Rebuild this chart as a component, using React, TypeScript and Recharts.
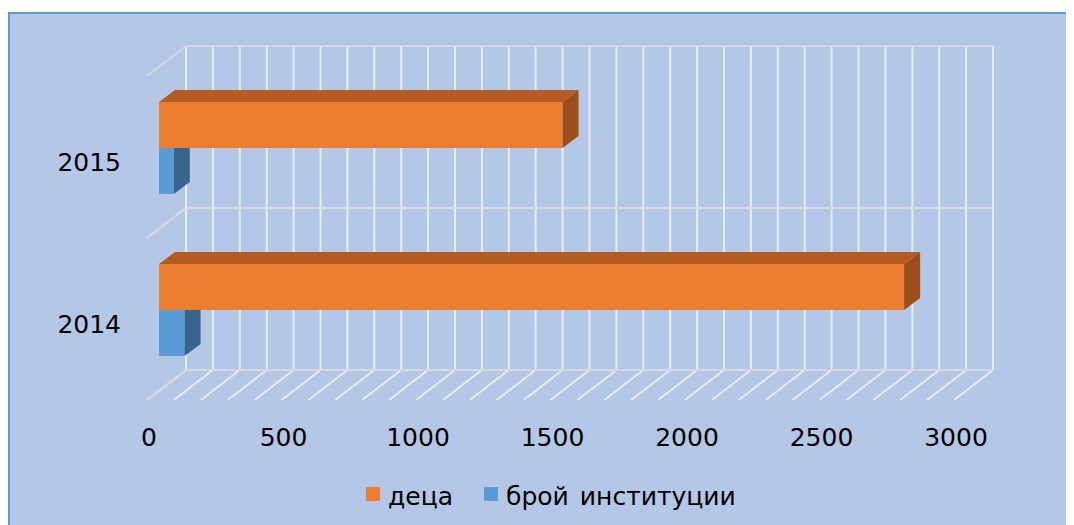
import React from 'react';
import { BarChart, Bar, XAxis, YAxis, Legend } from 'recharts';

// ---------- data ----------
const years = ['2014', '2015'];
const childrenCounts = [2770, 1500];
const institutionCounts = [95, 55];
const seriesNames = ['деца', 'брой институции'];
const xTickLabels = [0, 500, 1000, 1500, 2000, 2500, 3000];
const xGridTicks = [
  0, 100, 200, 300, 400, 500, 600, 700, 800, 900, 1000, 1100, 1200, 1300, 1400, 1500,
  1600, 1700, 1800, 1900, 2000, 2100, 2200, 2300, 2400, 2500, 2600, 2700, 2800, 2900, 3000,
];

const data = years.map((y, i) => ({
  year: y,
  children: childrenCounts[i],
  institutions: institutionCounts[i],
}));

// ---------- layout / style ----------
const W = 1062;
const H = 510;
const M = { top: 53, right: 106, bottom: 73, left: 0 };
const Y_AXIS_W = 149;
const X_AXIS_H = 60;
const PLOT_LEFT = M.left + Y_AXIS_W;
const PLOT_RIGHT = W - M.right;
const PLOT_TOP = M.top;
const PLOT_BOTTOM = H - M.bottom - X_AXIS_H;
const M_FG = { top: M.top, right: M.right, bottom: M.bottom + X_AXIS_H, left: M.left + Y_AXIS_W };
const BACK = { dx: 27, dy: -21 };
const FRONT = { dx: -12, dy: 9 };
const DEPTH = { dx: 16, dy: -12 };
const FONT = '"DejaVu Sans", Verdana, sans-serif';
const GRID = '#e9ecf2';
const FRAME = '#d6d9df';
const X_DOMAIN: [number, number] = [0, 3000];

const ORANGE = { front: '#ed7d31', top: '#b45d22', side: '#9c4f1b' };
const BLUE = { front: '#5b9bd5', top: '#4a80b3', side: '#38658d' };

const make3DBar = (c: { front: string; top: string; side: string }, drawTop: boolean) => (props: any) => {
  const { x, y, width, height } = props;
  if (width == null || width <= 0 || height <= 0) return <g />;
  const { dx, dy } = DEPTH;
  const sideTop = drawTop ? y + dy : y;
  return (
    <g>
      <rect x={x} y={y} width={width} height={height} fill={c.front} />
      {drawTop && (
        <polygon
          points={`${x},${y} ${x + width},${y} ${x + width + dx},${y + dy} ${x + dx},${y + dy}`}
          fill={c.top}
        />
      )}
      <polygon
        points={`${x + width},${y} ${x + width + dx},${sideTop} ${x + width + dx},${y + height + dy} ${x + width},${y + height}`}
        fill={c.side}
      />
    </g>
  );
};

const XTick = (props: any) => {
  const { x, payload } = props;
  const v = payload.value;
  const bx = x + BACK.dx;
  return (
    <g>
      <line x1={bx} y1={PLOT_TOP + BACK.dy} x2={bx} y2={PLOT_BOTTOM + BACK.dy} stroke={GRID} strokeWidth={2} />
      <line x1={bx} y1={PLOT_BOTTOM + BACK.dy} x2={x + FRONT.dx} y2={PLOT_BOTTOM + FRONT.dy} stroke={GRID} strokeWidth={2} />
      {xTickLabels.includes(v) && (
        <text
          x={x + FRONT.dx + 2}
          y={PLOT_BOTTOM + 46}
          textAnchor="middle"
          dominantBaseline="central"
          fontFamily={FONT}
          fontSize={25}
          fill="#000"
        >
          {v}
        </text>
      )}
    </g>
  );
};

const YTick = (props: any) => {
  const { x, y, payload } = props;
  const half =
    payload && typeof payload.offset === 'number' && payload.offset > 0
      ? payload.offset
      : (PLOT_BOTTOM - PLOT_TOP) / years.length / 2;
  const edges = [y - half, y + half];
  return (
    <g>
      {edges.map((e, i) => (
        <g key={i}>
          <line
            x1={PLOT_LEFT + BACK.dx}
            y1={e + BACK.dy}
            x2={PLOT_RIGHT + BACK.dx}
            y2={e + BACK.dy}
            stroke={FRAME}
            strokeWidth={2}
          />
          <line
            x1={PLOT_LEFT + BACK.dx}
            y1={e + BACK.dy}
            x2={PLOT_LEFT + FRONT.dx}
            y2={e + FRONT.dy}
            stroke={FRAME}
            strokeWidth={2}
          />
        </g>
      ))}
      <text
        x={x}
        y={y + 14}
        textAnchor="end"
        dominantBaseline="central"
        fontFamily={FONT}
        fontSize={25}
        fill="#000"
      >
        {payload.value}
      </text>
    </g>
  );
};

const LegendContent = (props: any) => {
  const payload = [...(props.payload || [])].sort(
    (a: any, b: any) => seriesNames.indexOf(a.value) - seriesNames.indexOf(b.value)
  );
  return (
    <div style={{ display: 'flex', alignItems: 'flex-start', fontFamily: FONT, fontSize: 25, lineHeight: '30px', color: '#000' }}>
      {payload.map((p: any, i: number) => (
        <div key={i} style={{ display: 'flex', alignItems: 'flex-start', marginLeft: i === 0 ? 0 : 31 }}>
          <div style={{ width: 14, height: 14, marginTop: 5, background: p.color, marginRight: 8 }} />
          <span style={{ whiteSpace: 'pre', wordSpacing: 3 }}>{p.value}</span>
        </div>
      ))}
    </div>
  );
};

export default function App() {
  return (
    <div
      style={{
        position: 'relative',
        top: 4,
        width: 1073,
        height: 520,
        boxSizing: 'border-box',
        border: '2px solid #5b9bd5',
        background: '#b4c7e7',
      }}
    >
      <style>{'html,body{overflow:hidden}'}</style>
      {/* back layer: 3D walls, floor grid and axis labels */}
      <div style={{ position: 'absolute', left: 0, top: 0 }}>
        <BarChart width={W} height={H} data={data} layout="vertical" margin={M}>
          <XAxis
            type="number"
            domain={X_DOMAIN}
            ticks={xGridTicks}
            interval={0}
            tick={<XTick />}
            tickLine={false}
            axisLine={false}
            tickSize={0}
            tickMargin={0}
            height={X_AXIS_H}
            allowDataOverflow
          />
          <YAxis
            type="category"
            dataKey="year"
            reversed
            width={Y_AXIS_W}
            tick={<YTick />}
            tickLine={false}
            axisLine={false}
            tickSize={0}
            tickMargin={38}
            interval={0}
          />
        </BarChart>
      </div>
      {/* front layer: bars and legend */}
      <div style={{ position: 'absolute', left: 0, top: 0 }}>
        <BarChart
          width={W}
          height={H}
          data={data}
          layout="vertical"
          margin={M_FG}
          barSize={46}
          barGap={0}
        >
          <XAxis type="number" domain={X_DOMAIN} hide allowDataOverflow />
          <YAxis type="category" dataKey="year" reversed hide />
          <Legend
            layout="horizontal"
            verticalAlign="middle"
            align="center"
            content={<LegendContent />}
            wrapperStyle={{ top: 468, left: 356, width: 'auto', height: 30 }}
          />
          <Bar
            dataKey="children"
            name={seriesNames[0]}
            fill={ORANGE.front}
            shape={make3DBar(ORANGE, true)}
            isAnimationActive={false}
          />
          <Bar
            dataKey="institutions"
            name={seriesNames[1]}
            fill={BLUE.front}
            shape={make3DBar(BLUE, false)}
            isAnimationActive={false}
          />
        </BarChart>
      </div>
    </div>
  );
}
